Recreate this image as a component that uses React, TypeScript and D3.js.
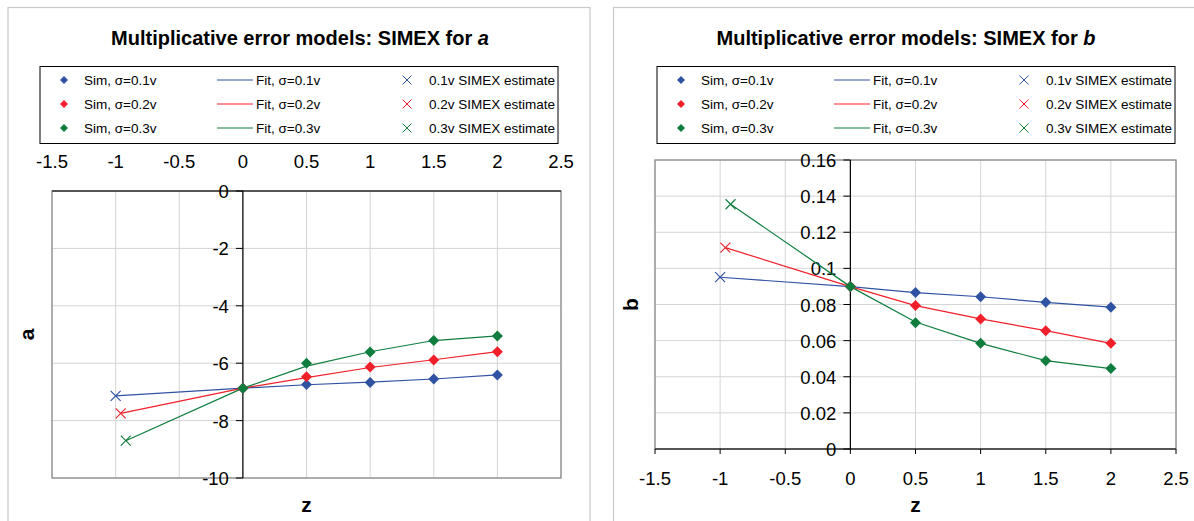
import React from "react";
import * as d3 from "d3";

// ---- data ----
const zSim = [0, 0.5, 1, 1.5, 2];
const seriesNames = ["0.1v", "0.2v", "0.3v"];
const simexZ = [-1, -0.96, -0.92];

const aSim01 = [-6.87, -6.74, -6.67, -6.55, -6.41];
const aSim02 = [-6.87, -6.47, -6.13, -5.89, -5.6];
const aSim03 = [-6.87, -6.0, -5.61, -5.21, -5.05];
const aSimex = [-7.14, -7.75, -8.7];
const aFit01 = [-7.14, -6.87, -6.75, -6.66, -6.55, -6.41];
const aFit02 = [-7.75, -6.87, -6.5, -6.15, -5.88, -5.6];
const aFit03 = [-8.7, -6.87, -6.1, -5.6, -5.21, -5.05];

const bSim01 = [0.0899, 0.0866, 0.0843, 0.0812, 0.0785];
const bSim02 = [0.0899, 0.0794, 0.072, 0.0655, 0.0585];
const bSim03 = [0.0899, 0.0699, 0.0585, 0.0489, 0.0445];
const bSimex = [0.0951, 0.1115, 0.1355];
const bFit01 = [0.0951, 0.0899, 0.0866, 0.0843, 0.0812, 0.0785];
const bFit02 = [0.1115, 0.0899, 0.0794, 0.072, 0.0655, 0.0585];
const bFit03 = [0.1355, 0.0899, 0.0703, 0.0585, 0.0489, 0.0445];

const xTicks = [-1.5, -1, -0.5, 0, 0.5, 1, 1.5, 2, 2.5];
const aTicks = [0, -2, -4, -6, -8, -10];
const bTicks = [0, 0.02, 0.04, 0.06, 0.08, 0.1, 0.12, 0.14, 0.16];

const colors = ["#2f52a3", "#f0202a", "#0f7d3e"];
const FONT = "'Liberation Sans', Arial, sans-serif";

const diamond = (x: number, y: number, r: number) =>
  `M${x},${y - r}L${x + r},${y}L${x},${y + r}L${x - r},${y}Z`;
const cross = (x: number, y: number, r: number) =>
  `M${x - r},${y - r}L${x + r},${y + r}M${x - r},${y + r}L${x + r},${y - r}`;

type ChartProps = {
  title: string;
  titleVar: string;
  cx: number;
  legendX: number;
  plot: { x0: number; x1: number; y0: number; y1: number };
  yDomain: [number, number];
  yTicks: number[];
  yFmt: (v: number) => string;
  xAxisAtTop: boolean;
  sims: number[][];
  fits: number[][];
  simex: number[];
  yLabel: string;
  yLabelX: number;
};

function Legend({ x }: { x: number }) {
  const rows = [80, 104, 128];
  return (
    <g>
      <rect x={x} y={66.5} width={518} height={77} fill="white" stroke="#000" strokeWidth={1} />
      {seriesNames.map((s, i) => (
        <g key={s} fontFamily={FONT} fontSize={13.5} fill="#000">
          <path d={diamond(x + 24, rows[i], 4)} fill={colors[i]} />
          <text x={x + 44} y={rows[i] + 5}>{`Sim, σ=${s}`}</text>
          <line x1={x + 177} x2={x + 213} y1={rows[i]} y2={rows[i]} stroke={colors[i]} strokeWidth={1} />
          <text x={x + 216} y={rows[i] + 5}>{`Fit, σ=${s}`}</text>
          <path d={cross(x + 367, rows[i], 4.5)} stroke={colors[i]} strokeWidth={1} fill="none" />
          <text x={x + 389} y={rows[i] + 5}>{`${s} SIMEX estimate`}</text>
        </g>
      ))}
    </g>
  );
}

function Chart(p: ChartProps) {
  const xs = d3.scaleLinear().domain([-1.5, 2.5]).range([p.plot.x0, p.plot.x1]);
  const ys = d3.scaleLinear().domain(p.yDomain).range([p.plot.y1, p.plot.y0]);
  const axisY = xs(0);
  const axisX = ys(p.xAxisAtTop ? 0 : 0);
  const line = d3
    .line<[number, number]>()
    .x((d) => xs(d[0]))
    .y((d) => ys(d[1]));
  const { x0, x1, y0, y1 } = p.plot;
  return (
    <g>
      <text x={p.cx} y={45} textAnchor="middle" fontFamily={FONT} fontWeight="bold" fontSize={20}>
        {p.title}
        <tspan fontStyle="italic">{p.titleVar}</tspan>
      </text>
      <Legend x={p.legendX} />
      {/* gridlines */}
      {xTicks.map((t) => (
        <line key={"gx" + t} x1={xs(t)} x2={xs(t)} y1={y0} y2={y1} stroke="#d4d4d4" strokeWidth={1} />
      ))}
      {p.yTicks.map((t) => (
        <line key={"gy" + t} x1={x0} x2={x1} y1={ys(t)} y2={ys(t)} stroke="#d4d4d4" strokeWidth={1} />
      ))}
      <rect x={x0} y={y0} width={x1 - x0} height={y1 - y0} fill="none" stroke="#8c8c8c" strokeWidth={1.3} />
      {/* axes */}
      <line x1={x0} x2={x1} y1={axisX} y2={axisX} stroke="#000" strokeWidth={1.2} />
      <line x1={axisY} x2={axisY} y1={y0} y2={y1} stroke="#000" strokeWidth={1.2} />
      {p.yTicks.map((t) => (
        <g key={"ty" + t}>
          <line x1={axisY - 7} x2={axisY} y1={ys(t)} y2={ys(t)} stroke="#000" strokeWidth={1} />
          <text
            x={axisY - 14}
            y={ys(t) + 7}
            textAnchor="end"
            fontFamily={FONT}
            fontSize={18.5}
            fill="#000"
          >
            {p.yFmt(t)}
          </text>
        </g>
      ))}
      {xTicks.map((t) => (
        <g key={"tx" + t}>
          {!p.xAxisAtTop && (
            <line x1={xs(t)} x2={xs(t)} y1={axisX} y2={axisX + 5} stroke="#000" strokeWidth={1} />
          )}
          <text
            x={xs(t)}
            y={p.xAxisAtTop ? axisX - 23 : axisX + 36}
            textAnchor="middle"
            fontFamily={FONT}
            fontSize={18.5}
            fill="#000"
          >
            {String(t)}
          </text>
        </g>
      ))}
      <text
        x={(x0 + x1) / 2}
        y={512}
        textAnchor="middle"
        fontFamily={FONT}
        fontWeight="bold"
        fontSize={21}
      >
        z
      </text>
      <text
        transform={`translate(${p.yLabelX},${(y0 + y1) / 2}) rotate(-90)`}
        textAnchor="middle"
        fontFamily={FONT}
        fontWeight="bold"
        fontSize={21}
      >
        {p.yLabel}
      </text>
      {/* fit lines */}
      {p.fits.map((f, i) => {
        const pts: [number, number][] = f.map((v, j) => [j === 0 ? simexZ[i] : zSim[j - 1], v]);
        return <path key={"f" + i} d={line(pts) || ""} fill="none" stroke={colors[i]} strokeWidth={1.2} />;
      })}
      {p.simex.map((v, i) => (
        <path key={"x" + i} d={cross(xs(simexZ[i]), ys(v), 5)} stroke={colors[i]} strokeWidth={1.1} fill="none" />
      ))}
      {p.sims.map((s, i) => (
        <g key={"s" + i}>
          {s.map((v, j) => (
            <path key={j} d={diamond(xs(zSim[j]), ys(v), 5.5)} fill={colors[i]} />
          ))}
        </g>
      ))}
    </g>
  );
}

export default function App() {
  return (
    <svg
      width={1194}
      height={521}
      style={{ position: "absolute", left: 0, top: 0, background: "white" }}
    >
      <rect x={0} y={0} width={1194} height={521} fill="white" />
      <rect x={8} y={7.5} width={582} height={540} fill="white" stroke="#c8c8c8" strokeWidth={1.2} />
      <rect x={613.5} y={7.5} width={600} height={540} fill="white" stroke="#c8c8c8" strokeWidth={1.2} />
      <Chart
        title="Multiplicative error models: SIMEX for "
        titleVar="a"
        cx={300}
        legendX={40}
        plot={{ x0: 52, x1: 561, y0: 191, y1: 478 }}
        yDomain={[-10, 0]}
        yTicks={aTicks}
        yFmt={(v) => String(v)}
        xAxisAtTop={true}
        sims={[aSim01, aSim02, aSim03]}
        fits={[aFit01, aFit02, aFit03]}
        simex={aSimex}
        yLabel="a"
        yLabelX={34}
      />
      <Chart
        title="Multiplicative error models: SIMEX for "
        titleVar="b"
        cx={906}
        legendX={657}
        plot={{ x0: 655, x1: 1176, y0: 160, y1: 449 }}
        yDomain={[0, 0.16]}
        yTicks={bTicks}
        yFmt={(v) => String(+v.toFixed(2))}
        xAxisAtTop={false}
        sims={[bSim01, bSim02, bSim03]}
        fits={[bFit01, bFit02, bFit03]}
        simex={bSimex}
        yLabel="b"
        yLabelX={638}
      />
    </svg>
  );
}
